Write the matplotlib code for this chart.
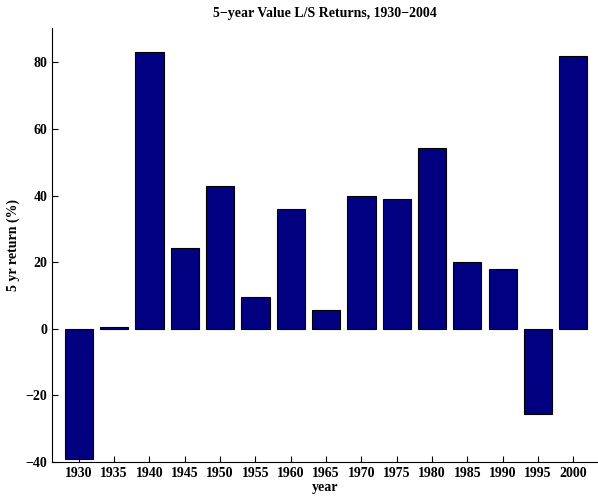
import matplotlib
matplotlib.use("Agg")
import matplotlib.pyplot as plt

# 5-year value long/short returns
years = [1930, 1935, 1940, 1945, 1950, 1955, 1960, 1965, 1970, 1975, 1980, 1985, 1990, 1995, 2000]
returns = [-39.0, 0.5, 83.2, 24.2, 42.8, 9.6, 35.9, 5.5, 39.9, 39.0, 54.2, 20.0, 17.9, -25.5, 82.0]

plt.rcParams['font.family'] = ['Liberation Serif', 'DejaVu Serif']
plt.rcParams['font.weight'] = 'bold'

fig = plt.figure(figsize=(5.98, 4.97), dpi=100)
ax = fig.add_axes([0.087, 0.0704, 0.913, 0.8733])
ax.bar(years, returns, width=4, color='#000080', edgecolor='black', linewidth=0.8)

ax.set_xlim(1926.2, 2003.5)
ax.set_ylim(-40, 90.3)
ax.set_xticks(years)
ax.set_yticks([-40, -20, 0, 20, 40, 60, 80])
ax.tick_params(direction='in', length=4, labelsize=10, width=0.8)
for lab in ax.get_xticklabels() + ax.get_yticklabels():
    lab.set_fontweight('bold')
ax.spines['top'].set_visible(False)
ax.spines['right'].set_visible(False)

ax.set_title('5\u2212year Value L/S Returns, 1930\u22122004', fontsize=10, fontweight='bold', pad=8)
ax.set_xlabel('year', fontsize=10, fontweight='bold', labelpad=1)
ax.set_ylabel('5 yr return (%)', fontsize=10, fontweight='bold', labelpad=4)

fig.savefig('out.png', dpi=100)
